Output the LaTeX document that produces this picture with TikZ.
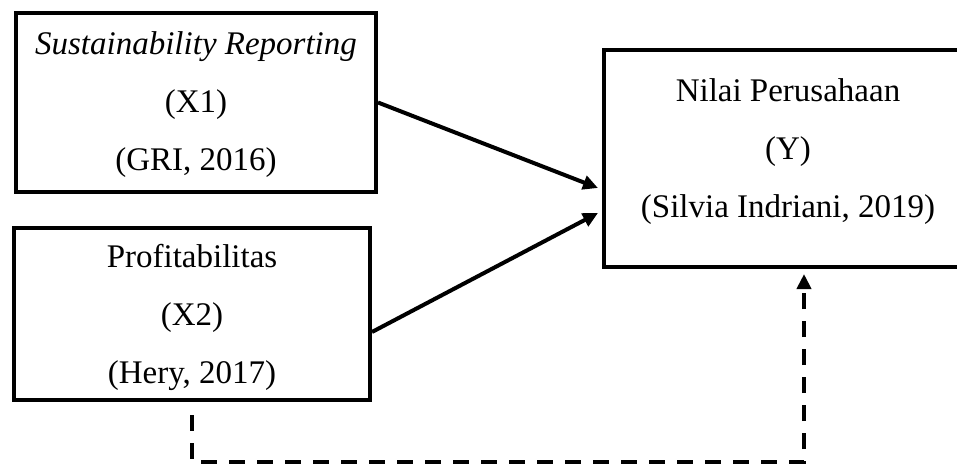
\documentclass[tikz,border=0pt]{standalone}
\usepackage{fontspec}
\setmainfont{Liberation Serif}
\usetikzlibrary{arrows.meta,calc}
\begin{document}
\begin{tikzpicture}[x=1pt,y=1pt,
  box/.style={draw=black,line width=4pt,minimum width=#1,inner sep=0pt},
  txt/.style={align=center,font=\fontsize{33}{58}\selectfont,inner sep=0pt},
  arr/.style={line width=4pt,-{Triangle[length=15pt,width=14pt]}},
  dasharr/.style={line width=4pt,dash pattern=on 16pt off 12pt,-{Triangle[length=15pt,width=14pt]}}]
\clip (0,0) rectangle (957,466);
\node[box=360pt,minimum height=179pt] (b1) at (196,363.5) {};
\node[txt] (t1) at ([yshift=-2pt]b1.center) {\textit{Sustainability Reporting}\\(X1)\\(GRI, 2016)};
\node[box=356pt,minimum height=172pt] (b2) at (192,152) {};
\node[txt] (t2) at ([yshift=-3pt]b2.center) {Profitabilitas\\(X2)\\(Hery, 2017)};
\node[box=368pt,minimum height=217pt] (y) at (788,307.5) {};
\node[txt] (ty) at ([yshift=7pt]y.center) {Nilai Perusahaan\\(Y)\\(Silvia Indriani, 2019)};
\coordinate (e1) at ($(y.west)+(-4,-29.5)$);
\coordinate (e2) at ($(y.west)+(-4,-54.5)$);
\draw[arr] (b1.east) -- (e1);
\draw[arr] ($(b2.east)+(0,-18)$) -- (e2);
\coordinate (d0) at ($(b2.south)+(0,-13)$);
\coordinate (d1) at (192,4);
\coordinate (d2) at (804,4);
\coordinate (d3) at ($(y.south)+(16,-5)$);
\draw[dasharr] (d0) -- (d1) -- (d2) -- (d3);
\end{tikzpicture}
\end{document}
